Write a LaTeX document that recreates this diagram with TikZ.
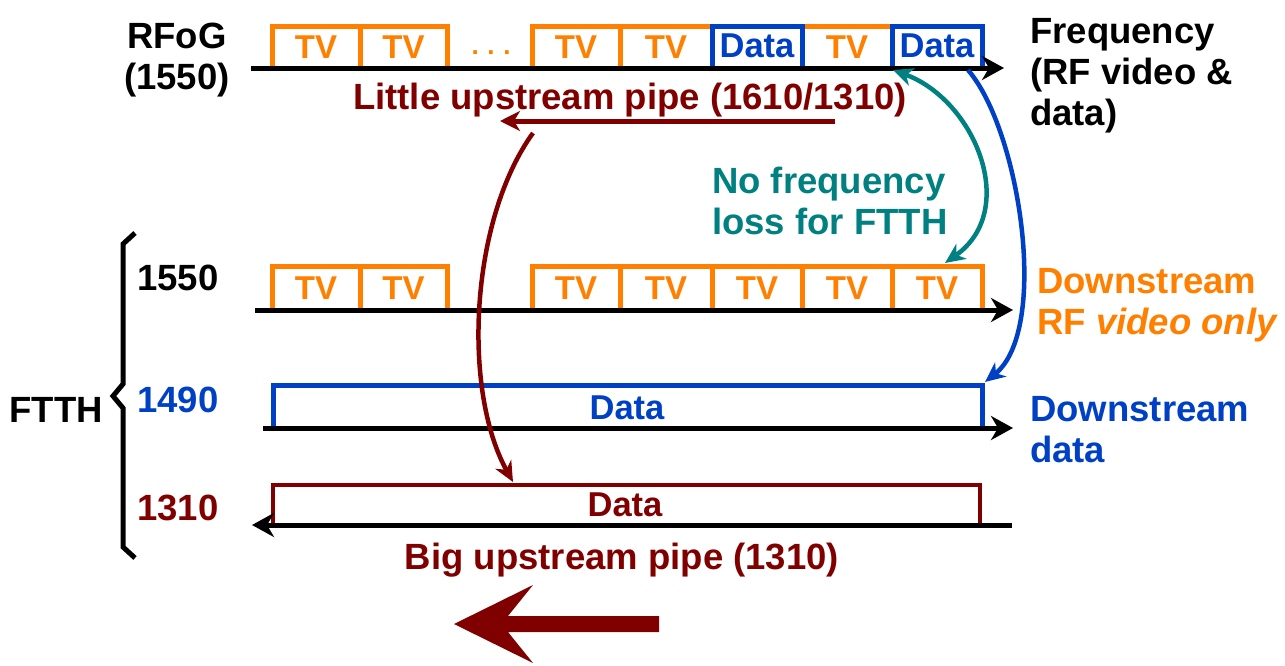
\documentclass[tikz,border=0pt]{standalone}
\usepackage{fontspec}
\setmainfont{Liberation Sans}
\usetikzlibrary{arrows.meta}
\definecolor{tvor}{RGB}{255,128,0}
\definecolor{dblue}{RGB}{0,64,196}
\definecolor{mar}{RGB}{128,0,0}
\definecolor{teal2}{RGB}{0,128,128}
\tikzset{
  lbl/.style={font=\bfseries\fontsize{36.5}{41}\selectfont, inner sep=0pt},
  boxtxt/.style={font=\bfseries\fontsize{33}{36}\selectfont, inner sep=0pt},
  datatxt/.style={font=\bfseries\fontsize{34.5}{38}\selectfont, inner sep=0pt},
  axis/.style={line width=5pt, -{Stealth[length=22pt,width=24pt,inset=7pt]}},
  tvbox/.style={draw=tvor, line width=5pt},
  databox/.style={draw=dblue, line width=5pt},
  curvearr/.style={line width=4.5pt, -{Stealth[length=20pt,width=18pt,inset=6pt]}},
}
\begin{document}
\begin{tikzpicture}[x=1pt,y=-1pt]
\useasboundingbox (0,0) rectangle (1285,665);

% ---------- top row (RFoG) ----------
\foreach \a/\b in {272/360,360/447,532/620,620/712,802/892}{
  \draw[tvbox] (\a,68) |- (\b,26) -- (\b,68);
  \node[boxtxt, text=tvor] at ({(\a+\b)/2},47) {TV};
}
\foreach \a/\b in {712/802,892/982}{
  \draw[databox] (\a,68) |- (\b,26) -- (\b,68);
  \node[datatxt, text=dblue] at ({(\a+\b)/2},46) {Data};
}
\node[font=\bfseries\fontsize{26}{28}\selectfont, text=tvor, inner sep=0pt, anchor=base] (dots) at (491,54) {.\,\,.\,\,.};
\coordinate (t0) at (251,68);
\coordinate (t1) at (1004,68);
\draw[axis] (t0) -- (t1);

\node[lbl, align=center] (rfog) at (177,60) {RFoG\\(1550)};
\node[lbl, align=left, anchor=west] (freq) at (1030,76) {Frequency\\(RF video \&\\data)};

\node[lbl, text=mar] (little) at (630,100) {Little upstream pipe (1610/1310)};
\coordinate (la) at (835,121);
\coordinate (lb) at (500,121);
\draw[line width=5pt, draw=mar, -{Stealth[length=20pt,width=20pt,inset=6pt]}] (la) -- (lb);

\node[lbl, text=teal2, align=left, anchor=west] (nofreq) at (712,201) {No frequency\\loss for FTTH};

% ---------- FTTH 1550 ----------
\foreach \a/\b in {272/360,360/447,532/620,620/712,712/802,802/892,892/982}{
  \draw[tvbox] (\a,310) |- (\b,266) -- (\b,310);
  \node[boxtxt, text=tvor] at ({(\a+\b)/2},288) {TV};
}
\coordinate (a0) at (255,310);
\coordinate (a1) at (1013,310);
\draw[axis] (a0) -- (a1);
\node[lbl, anchor=west] (l1550) at (137,278) {1550};
\node[lbl, text=tvor, align=left, anchor=west] (dsrf) at (1037,305) {Downstream\\RF \textit{video only}};

% ---------- FTTH 1490 ----------
\draw[databox] (273,428) |- (982,385) -- (982,428);
\node[datatxt, text=dblue] (d1490) at (627,408) {Data};
\coordinate (b0) at (263,428);
\coordinate (b1) at (1013,428);
\draw[axis] (b0) -- (b1);
\node[lbl, text=dblue, anchor=west] (l1490) at (137,400) {1490};
\node[lbl, text=dblue, align=left, anchor=west] (dsdata) at (1030,430) {Downstream\\data};

% ---------- FTTH 1310 ----------
\draw[draw=mar, line width=4.5pt] (273,525) |- (980,485) -- (980,525);
\node[datatxt, text=mar] (d1310) at (625,505) {Data};
\coordinate (c0) at (1012,525);
\coordinate (c1) at (252,525);
\draw[axis] (c0) -- (c1);
\node[lbl, text=mar, anchor=west] (l1310) at (137,508) {1310};
\node[lbl, text=mar] (big) at (622,560) {Big upstream pipe (1310)};

% big arrow
\fill[mar] (659,616) -- (508,616) -- (533,585) -- (454,624) -- (533,663) -- (508,632) -- (659,632) -- cycle;

% brace and FTTH
\draw[line width=5pt, line join=miter] (135,233) -- (123,244) -- (123,384) -- (113,396) -- (123,408) -- (123,547) -- (135,558);
\node[lbl, anchor=east] (ftth) at (103,410) {FTTH};

% ---------- curves ----------
\coordinate (tc0) at (893,70);
\coordinate (tc1) at (945,263);
\draw[curvearr, draw=teal2, {Stealth[length=20pt,width=18pt,inset=6pt]}-{Stealth[length=20pt,width=18pt,inset=6pt]}] (tc0) .. controls (975,100) and (1020,210) .. (tc1);
\coordinate (bc0) at (968,70);
\coordinate (bc1) at (985,382);
\draw[curvearr, draw=dblue] (bc0) .. controls (1020,130) and (1050,330) .. (bc1);
\coordinate (mc0) at (533,133);
\coordinate (mc1) at (513,482);
\draw[curvearr, draw=mar] (mc0) .. controls (470,220) and (462,390) .. (mc1);
\end{tikzpicture}
\end{document}
